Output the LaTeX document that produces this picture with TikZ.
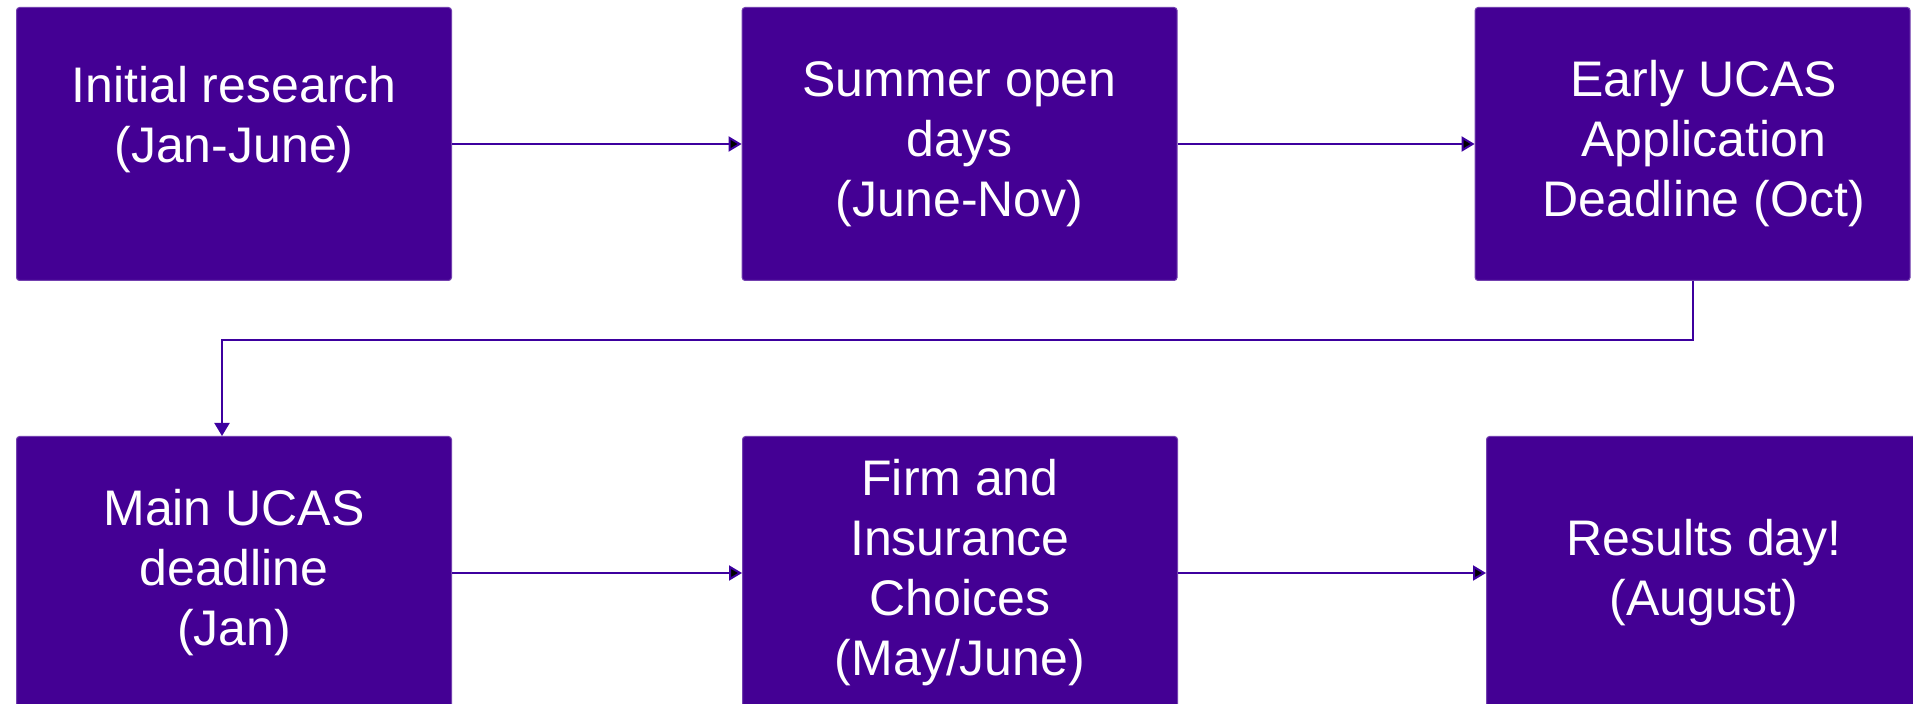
\documentclass[tikz,border=0pt]{standalone}
\usepackage{fontspec}
\setmainfont{Liberation Sans}
\usetikzlibrary{arrows.meta,positioning}
\definecolor{ucaspurple}{RGB}{68,0,148}

\begin{document}
\begin{tikzpicture}[x=0.5pt,y=-0.5pt,>={Triangle[length=6.5pt,width=7.5pt]},
  line width=1pt,
  stage/.style={rectangle,rounded corners=1.5pt,fill=ucaspurple,draw=ucaspurple!75!white,
    line width=0.5pt,minimum width=217.5pt,minimum height=136.5pt,inner sep=0pt,
    text=white,align=center,font=\fontsize{25pt}{30pt}\selectfont}]

\path[use as bounding box,clip] (0,0) rectangle (1913,704);

\node[stage,anchor=north west] (research) at (16,7)      {Initial research\\(Jan-June)\\~};
\node[stage]   (opendays)[right=144.8pt of research]     {Summer open\\days\\(June-Nov)};
\node[stage]   (earlyapp)[right=148.5pt of opendays]     {\hspace*{11pt}Early UCAS\\\hspace*{11pt}Application\\\hspace*{11pt}Deadline (Oct)};
\node[stage]   (maindeadline)[below=77.5pt of research]  {Main UCAS\\deadline\\(Jan)};
\node[stage]   (choices)[right=145pt of maindeadline]    {Firm and\\Insurance\\Choices\\(May/June)};
\node[stage]   (results)[right=154pt of choices]         {Results day!\\(August)};

\coordinate (turn) at (222,340);

	\path[->,draw=ucaspurple!90!blue] (research)  edge  (opendays)
	                          (opendays)  edge  (earlyapp)
	                      (maindeadline)  edge  (choices)
	                           (choices)  edge  (results);

	\draw[->,ucaspurple!90!blue] (earlyapp.south) |- (turn) -- (turn |- maindeadline.north);

\end{tikzpicture}
\end{document}
